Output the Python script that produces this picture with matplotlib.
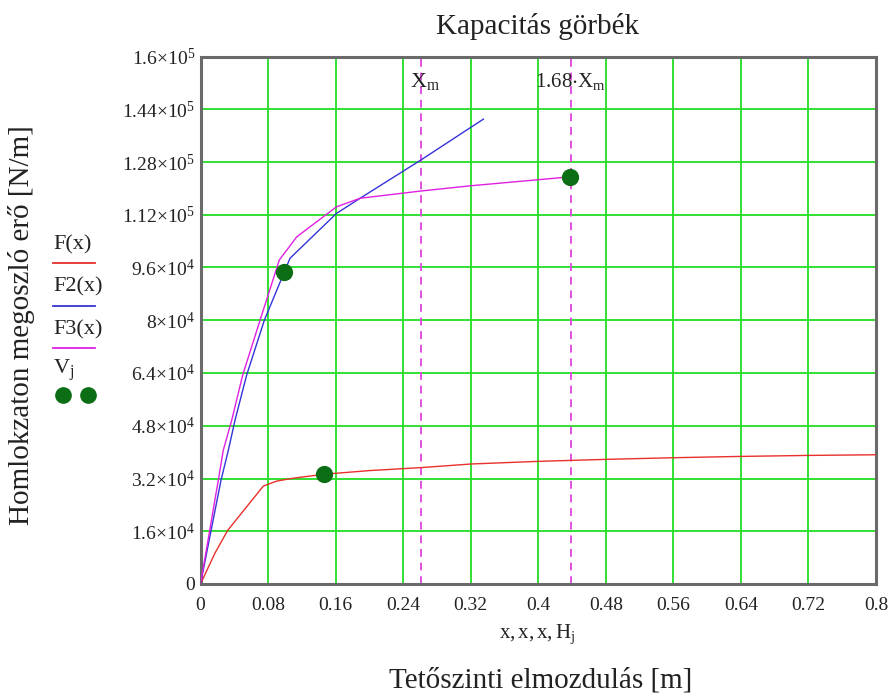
import numpy as np
import matplotlib
matplotlib.use("Agg")
import matplotlib.pyplot as plt
from matplotlib.lines import Line2D

plt.rcParams['font.family'] = ['Liberation Serif', 'DejaVu Serif']
plt.rcParams['mathtext.fontset'] = 'custom'
plt.rcParams['mathtext.rm'] = 'Liberation Serif'
plt.rcParams['mathtext.it'] = 'Liberation Serif:italic'

# data
f_x = [0, 0.0172, 0.032, 0.0744, 0.09, 0.11, 0.1467, 0.2, 0.261, 0.3205, 0.4, 0.48, 0.56, 0.64, 0.72, 0.8]
f_y = [0, 9.4e3, 1.62e4, 2.97e4, 3.12e4, 3.21e4, 3.33e4, 3.44e4, 3.53e4, 3.64e4, 3.72e4, 3.78e4, 3.83e4, 3.87e4, 3.9e4, 3.92e4]

f2_x = [0, 0.0243, 0.033, 0.0409, 0.0547, 0.0756, 0.106, 0.161, 0.189, 0.261, 0.335]
f2_y = [0, 3.15e4, 4.06e4, 4.97e4, 6.34e4, 8.0e4, 9.88e4, 1.124e5, 1.17e5, 1.286e5, 1.41e5]

f3_x = [0, 0.0211, 0.027, 0.037, 0.050, 0.0705, 0.0934, 0.114, 0.13, 0.161, 0.189, 0.261, 0.3205, 0.438]
f3_y = [0, 3.15e4, 4.06e4, 4.97e4, 6.34e4, 8.0e4, 9.83e4, 1.053e5, 1.084e5, 1.144e5, 1.17e5, 1.192e5, 1.208e5, 1.235e5]

h_j = [0.0993, 0.1467, 0.438]
v_j = [9.46e4, 3.33e4, 1.235e5]

x_m = 0.261

x_ticks = [0, 0.08, 0.16, 0.24, 0.32, 0.4, 0.48, 0.56, 0.64, 0.72, 0.8]
x_labels = ['0', '0.08', '0.16', '0.24', '0.32', '0.4', '0.48', '0.56', '0.64', '0.72', '0.8']
y_ticks = [0, 1.6e4, 3.2e4, 4.8e4, 6.4e4, 8e4, 9.6e4, 1.12e5, 1.28e5, 1.44e5, 1.6e5]
y_labels = ['0', '1.6×10^4', '3.2×10^4', '4.8×10^4', '6.4×10^4', '8×10^4', '9.6×10^4',
            '1.12×10^5', '1.28×10^5', '1.44×10^5', '1.6×10^5']

W, H = 893, 693


def fx(x):
    return x / W


def fy(y):
    return 1 - y / H


def mathcad_label(s):
    if '^' not in s:
        return s
    base, exp = s.split('^')
    base = base.replace('×', r'{\times}')
    return r'$\mathregular{' + base + '^{' + exp + '}}$'


fig = plt.figure(figsize=(W / 100, H / 100), dpi=100)
ax = fig.add_axes([fx(200.5), fy(584), (876 - 200.5) / W, (584 - 56.5) / H])

grid_col = '#22dd22'
for t in x_ticks[1:-1]:
    ax.axvline(t, color=grid_col, lw=1.3, zorder=0)
for t in y_ticks[1:-1]:
    ax.axhline(t, color=grid_col, lw=1.3, zorder=0)

ax.plot(f_x, f_y, color='#e8302c', lw=1.0, zorder=3)
ax.plot(f2_x, f2_y, color='#3434d8', lw=1.0, zorder=3)
ax.plot(f3_x, f3_y, color='#e020e0', lw=1.0, zorder=3)
ax.scatter(h_j, v_j, s=130, color='#0b6e14', zorder=5)

ax.axvline(x_m, color='#e050e0', lw=1.4, ls=(0, (4, 3)), zorder=2)
ax.axvline(1.68 * x_m, color='#e050e0', lw=1.4, ls=(0, (4, 3)), zorder=2)
ax.text(x_m + 0.005, 1.525e5, r'$\mathregular{X_m}$', ha='center', va='center', fontsize=16, color='#222222')
ax.text(1.68 * x_m, 1.525e5, r'$\mathregular{1.68{\cdot}X_m}$', ha='center', va='center',
        fontsize=15, color='#222222')

ax.set_xlim(0, 0.8)
ax.set_ylim(0, 1.6e5)
ax.set_xticks(x_ticks)
ax.set_xticklabels(x_labels)
ax.set_yticks(y_ticks)
ax.set_yticklabels([mathcad_label(s) for s in y_labels])
ax.tick_params(length=0, labelsize=14, colors='#222222')
ax.tick_params(axis='x', pad=9)
ax.tick_params(axis='y', pad=4)
for sp in ax.spines.values():
    sp.set_color('#6a6a6a')
    sp.set_linewidth(2.2)

# titles and axis texts
fig.text(fx(537), fy(26), 'Kapacitás görbék', ha='center', va='center', fontsize=21, color='#222222')
fig.text(fx(537), fy(634), r'$\mathregular{x, x, x, H_j}$', ha='center', va='center', fontsize=15,
         color='#222222')
fig.text(fx(541), fy(680), 'Tetőszinti elmozdulás [m]', ha='center', va='center', fontsize=21,
         color='#222222')
fig.text(fx(22), fy(325), 'Homlokzaton megoszló erő [N/m]', ha='center', va='center', rotation=90,
         fontsize=21, color='#222222')

# legend drawn by hand, Mathcad style
leg = [('F(x)', '#e8302c', 245, 262.7), ('F2(x)', '#3434d8', 287, 305.7), ('F3(x)', '#e020e0', 330, 347.7)]
for name, col, ty, ly in leg:
    fig.text(fx(53), fy(ty), name, ha='left', va='center', fontsize=16, color='#222222')
    fig.add_artist(Line2D([fx(53), fx(95)], [fy(ly), fy(ly)], color=col, lw=1.3))
fig.text(fx(53), fy(370), r'$\mathregular{V_j}$', ha='left', va='center', fontsize=16, color='#222222')
fig.add_artist(Line2D([fx(63), fx(88)], [fy(395), fy(395)], ls='none', marker='o', ms=11,
                      color='#0b6e14'))

fig.savefig('out.png', dpi=100)
